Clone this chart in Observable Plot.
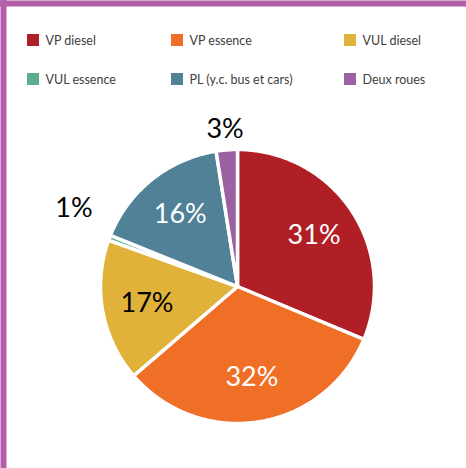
<!DOCTYPE html>
<html><head><meta charset="utf-8">
<script src="https://cdn.jsdelivr.net/npm/d3@7"></script>
<script src="https://cdn.jsdelivr.net/npm/@observablehq/plot@0.6"></script>
<style>html,body{margin:0;padding:0;background:#fff}</style>
</head><body><div id="chart"></div>
<script>
const categories = ["VP diesel", "VP essence", "VUL diesel", "VUL essence", "PL (y.c. bus et cars)", "Deux roues"];
const shares = [31.3, 32.4, 16.8, 0.6, 16.4, 2.5];
const percentLabels = ["31%", "32%", "17%", "1%", "16%", "3%"];
const colors = ["#b01f25", "#f06f26", "#e1b23a", "#5dae8f", "#508197", "#9b62a3"];

const W = 466, H = 468, cx = 237, cy = 286, R = 137;
const rows = categories.map((c, i) => ({cat: c, share: shares[i], label: percentLabels[i], color: colors[i], i}));
const arcs = d3.pie().sort(null).value(d => d.share)(rows);

const pts = [];
arcs.forEach(a => {
  const n = Math.max(3, Math.ceil((a.endAngle - a.startAngle) / 0.01));
  pts.push({cat: a.data.cat, x: cx, y: cy});
  for (let k = 0; k <= n; k++) {
    const t = a.startAngle + (a.endAngle - a.startAngle) * k / n;
    pts.push({cat: a.data.cat, x: cx + R * Math.sin(t), y: cy - R * Math.cos(t)});
  }
  pts.push({cat: a.data.cat, x: cx, y: cy});
});

const labels = arcs.map(a => {
  const m = (a.startAngle + a.endAngle) / 2;
  const inside = a.data.share > 5;
  const r = inside ? 92 : 158;
  return {
    label: a.data.label, cat: a.data.cat, inside, tiny: a.data.share < 1,
    x: cx + r * Math.sin(m), y: cy - r * Math.cos(m),
    ink: inside && d3.lab(a.data.color).l < 70 ? "#ffffff" : "#000000"
  };
});

const legend = rows.map(d => {
  const col = d.i % 3, row = Math.floor(d.i / 3);
  const lx = [27, 171, 344][col], ly = [40, 79][row];
  return {cat: d.cat, x1: lx, x2: lx + 12, y1: ly - 6, y2: ly + 6, tx: lx + 18, ty: ly};
});

const chart = Plot.plot({
  width: W, height: H,
  margin: 0,
  style: {fontFamily: "Lato, 'Open Sans', sans-serif", background: "#fff"},
  x: {domain: [0, W], range: [0, W], axis: null},
  y: {domain: [0, H], range: [0, H], axis: null},
  color: {domain: categories, range: colors},
  marks: [
    Plot.line(pts, {x: "x", y: "y", z: "cat", fill: "cat", stroke: "white", strokeWidth: 3.5, strokeLinejoin: "miter", strokeLinecap: "butt", strokeMiterlimit: 4}),
    Plot.text(labels.filter(d => d.inside), {x: "x", y: "y", text: "label", fill: "ink", fontSize: 27}),
    Plot.text(labels.filter(d => !d.inside && !d.tiny), {x: "x", y: "y", text: "label", fill: "ink", fontSize: 27}),
    Plot.text(labels.filter(d => d.tiny), {x: "x", y: "y", text: "label", fill: "ink", fontSize: 27, dx: -16, dy: -22}),
    Plot.rect(legend, {x1: "x1", x2: "x2", y1: "y1", y2: "y2", fill: "cat"}),
    Plot.text(legend, {x: "tx", y: "ty", text: "cat", textAnchor: "start", fill: "#404040", fontSize: 12.5}),
    Plot.ruleY([3], {stroke: "#b35ea8", strokeWidth: 6}),
    Plot.ruleX([3], {stroke: "#b35ea8", strokeWidth: 6})
  ]
});
document.getElementById("chart").appendChild(chart);
</script>
</body></html>
